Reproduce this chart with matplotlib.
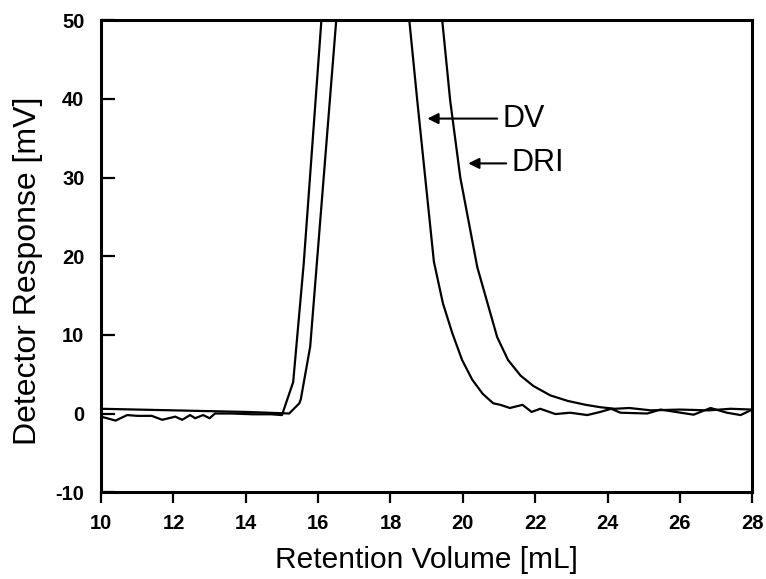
import matplotlib
matplotlib.use("Agg")
import matplotlib.pyplot as plt

plt.rcParams['font.family'] = ['Liberation Sans', 'DejaVu Sans']
plt.rcParams['axes.unicode_minus'] = False

# DV detector trace (retention volume mL, response mV); values above 50 are off-scale
dv_x = [10.0, 10.4, 10.72, 11.0, 11.4, 11.69, 12.05, 12.24, 12.46, 12.6, 12.82, 13.0, 13.15,
        13.6, 14.2, 14.7, 15.0, 15.31, 15.6, 16.09, 17.3, 18.52, 18.74, 19.2, 19.45, 19.71,
        19.98, 20.26, 20.55, 20.84, 21.04, 21.3, 21.65, 21.9, 22.14, 22.56, 22.97, 23.44,
        23.8, 24.1, 24.36, 25.1, 25.46, 26.38, 26.85, 27.3, 27.68, 28.0]
dv_y = [-0.4, -0.9, -0.2, -0.3, -0.3, -0.8, -0.4, -0.8, -0.2, -0.6, -0.2, -0.6, 0.0,
        0.0, -0.1, -0.1, -0.2, 4.0, 19.0, 50.0, 100.0, 50.0, 39.8, 19.3, 14.0, 10.2,
        6.8, 4.3, 2.5, 1.3, 1.1, 0.7, 1.1, 0.2, 0.6, -0.07, 0.1, -0.2,
        0.2, 0.6, 0.1, 0.0, 0.5, -0.15, 0.7, 0.1, -0.2, 0.5]

# DRI detector trace
dri_x = [10.0, 11.0, 12.0, 13.0, 14.0, 14.6, 15.2, 15.48, 15.52, 15.78, 16.5, 17.9, 19.43,
         19.65, 19.93, 20.4, 20.95, 21.25, 21.6, 21.95, 22.42, 22.9, 23.4, 23.8, 24.2, 24.6,
         25.2, 26.0, 26.8, 27.4, 28.0]
dri_y = [0.6, 0.5, 0.4, 0.3, 0.2, 0.1, 0.0, 1.3, 1.8, 8.5, 50.0, 100.0, 50.0,
         39.8, 30.0, 18.6, 9.7, 6.8, 4.8, 3.5, 2.3, 1.6, 1.1, 0.8, 0.6, 0.7,
         0.4, 0.5, 0.4, 0.6, 0.5]

x_ticks = [10, 12, 14, 16, 18, 20, 22, 24, 26, 28]
y_ticks = [-10, 0, 10, 20, 30, 40, 50]

fig = plt.figure(figsize=(7.66, 5.79), dpi=100)
ax = fig.add_axes([0.132, 0.150, 0.850, 0.815])

ax.plot(dv_x, dv_y, color='black', lw=1.6)
ax.plot(dri_x, dri_y, color='black', lw=1.6)

ax.set_xlim(10, 28)
ax.set_ylim(-10, 50)
ax.set_xticks(x_ticks)
ax.set_yticks(y_ticks)

for s in ax.spines.values():
    s.set_linewidth(2.2)

ax.tick_params(axis='x', direction='out', length=8, width=1.6, labelsize=14.5, pad=8)
ax.tick_params(axis='y', direction='in', length=10, width=1.6, labelsize=14.5, pad=12)
for lab in ax.get_xticklabels() + ax.get_yticklabels():
    lab.set_fontweight('bold')

ax.set_xlabel('Retention Volume [mL]', fontsize=21.5, labelpad=9)
ax.set_ylabel('Detector Response [mV]', fontsize=23, labelpad=4)
ax.yaxis.set_label_coords(-0.09, 0.47)

arrow = dict(arrowstyle='-|>', color='black', lw=1.5, mutation_scale=16, shrinkA=0, shrinkB=0)
ax.annotate('', xy=(19.02, 37.5), xytext=(20.95, 37.5), arrowprops=arrow)
ax.text(21.1, 37.5, 'DV', fontsize=22, va='center', ha='left')
ax.annotate('', xy=(20.15, 31.8), xytext=(21.2, 31.8), arrowprops=arrow)
ax.text(21.35, 31.8, 'DRI', fontsize=22, va='center', ha='left')

fig.savefig('out.png', dpi=100)
